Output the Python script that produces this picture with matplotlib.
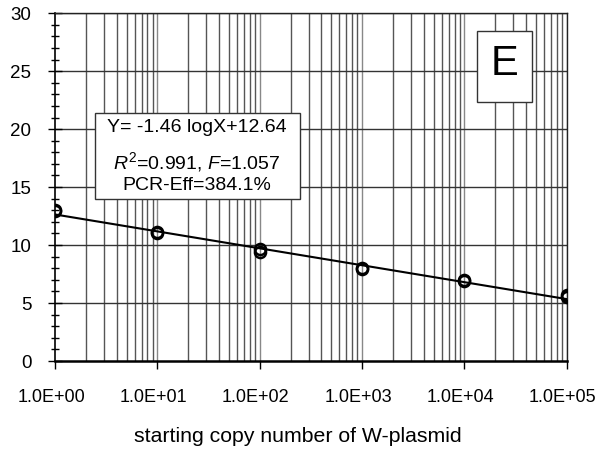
import matplotlib
matplotlib.use("Agg")
import matplotlib.pyplot as plt
import matplotlib.transforms as mtransforms
import numpy as np
from matplotlib.ticker import FixedLocator, MultipleLocator

plt.rcParams['font.family'] = ['Liberation Sans', 'DejaVu Sans']
plt.rcParams['mathtext.fontset'] = 'custom'
plt.rcParams['mathtext.rm'] = 'Liberation Sans'
plt.rcParams['mathtext.it'] = 'Liberation Sans:italic'

copies = [1, 1, 10, 10, 100, 100, 1000, 1000, 1e4, 1e4, 1e5, 1e5]
ct_values = [13.0, 12.9, 11.1, 11.0, 9.7, 9.4, 8.0, 7.95, 6.95, 6.9, 5.7, 5.5]
slope, intercept = -1.46, 12.64
xtick_vals = [1, 10, 100, 1000, 1e4, 1e5]
xtick_labels = ["1.0E+00", "1.0E+01", "1.0E+02", "1.0E+03", "1.0E+04", "1.0E+05"]
ytick_vals = [0, 5, 10, 15, 20, 25, 30]

fig = plt.figure(figsize=(6, 4.53), dpi=100)
ax = fig.add_axes([0.0917, 0.203, 0.853, 0.768])
ax.set_xscale('log')
ax.set_xlim(1, 1e5)
ax.set_ylim(0, 30)

# grid
minor_x = [m * 10**e for e in range(0, 5) for m in range(2, 10)]
for xv in minor_x:
    ax.axvline(xv, color='#555555', lw=1.0, zorder=1)
for xv in xtick_vals[1:]:
    ax.axvline(xv, color='#888888', lw=1.0, zorder=1)
for yv in ytick_vals[1:]:
    ax.axhline(yv, color='#333333', lw=1.0, zorder=1)

xs = np.array([1, 1e5])
ax.plot(xs, slope * np.log10(xs) + intercept, color='black', lw=1.5, zorder=3)
ax.plot(copies, ct_values, 'o', ms=8, mfc='none', mec='black', mew=1.8, zorder=4)

ax.xaxis.set_major_locator(FixedLocator(xtick_vals))
ax.xaxis.set_minor_locator(FixedLocator([]))
ax.set_xticklabels(xtick_labels, fontsize=13)
ax.tick_params(axis='x', which='major', direction='out', length=6, width=1, pad=14)
offset = mtransforms.ScaledTranslation(-4/100, 0, fig.dpi_scale_trans)
for lbl in ax.get_xticklabels():
    lbl.set_transform(lbl.get_transform() + offset)
ax.yaxis.set_major_locator(FixedLocator(ytick_vals))
ax.yaxis.set_minor_locator(MultipleLocator(1))
ax.tick_params(axis='y', which='major', direction='inout', length=10, width=1, labelsize=13.5, pad=12)
ax.tick_params(axis='y', which='minor', direction='inout', length=6, width=1)

for s in ['top', 'right']:
    ax.spines[s].set_linewidth(1.0)
    ax.spines[s].set_color('#222222')
ax.spines['bottom'].set_linewidth(1.8)
ax.spines['left'].set_linewidth(1.2)

fig.text(298/600, 1-437/453, "starting copy number of W-plasmid", ha='center', va='center', fontsize=15.3)

# equation box
fig.patches.append(plt.Rectangle((95/600, 1-199/453), 205/600, 86/453, transform=fig.transFigure,
                                 facecolor='white', edgecolor='#333333', lw=1.0, zorder=5))
fig.text(197/600, 1-128/453, "Y= -1.46 logX+12.64", ha='center', va='center', fontsize=14, zorder=6)
fig.text(197/600, 1-162/453, "$\\mathit{R}^{2}$=0.991, $\\mathit{F}$=1.057", ha='center', va='center', fontsize=14, zorder=6)
fig.text(197/600, 1-186/453, "PCR-Eff=384.1%", ha='center', va='center', fontsize=14, zorder=6)

# E box
fig.patches.append(plt.Rectangle((477/600, 1-102/453), 55/600, 71/453, transform=fig.transFigure,
                                 facecolor='white', edgecolor='#333333', lw=1.0, zorder=5))
fig.text(504.5/600, 1-64/453, "E", ha='center', va='center', fontsize=30, zorder=6)

fig.savefig("out.png", dpi=100)
